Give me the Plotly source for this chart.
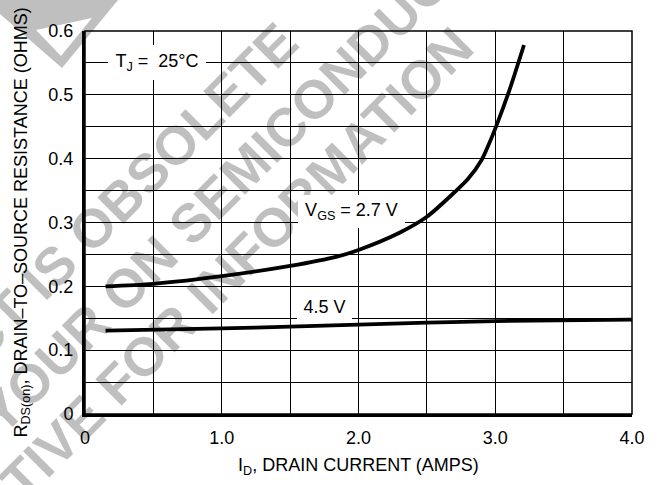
import plotly.graph_objects as go

# ---- data ----
id_27 = [0.15, 0.5, 1.0, 1.5, 1.85, 2.0, 2.3, 2.5, 2.7, 2.8, 2.9, 2.95, 3.0, 3.1, 3.21]
rds_27 = [0.200, 0.204, 0.216, 0.232, 0.247, 0.257, 0.284, 0.309, 0.347, 0.368, 0.398, 0.421, 0.447, 0.505, 0.578]

id_45 = [0.15, 1.0, 1.5, 2.0, 2.5, 3.0, 4.0]
rds_45 = [0.1305, 0.134, 0.137, 0.140, 0.143, 0.1455, 0.148]

x_tickvals = [0, 1.0, 2.0, 3.0, 4.0]
x_ticktext = ["0", "1.0", "2.0", "3.0", "4.0"]
y_tickvals = [0, 0.1, 0.2, 0.3, 0.4, 0.5, 0.6]
y_ticktext = ["0", "0.1", "0.2", "0.3", "0.4", "0.5", "0.6"]
x_grid_step = 0.5
y_grid_step = 0.05

x_title = "I<sub>D</sub>, DRAIN CURRENT (AMPS)"
y_title = "R<sub>DS(on)</sub>, DRAIN\u2013TO\u2013SOURCE RESISTANCE (OHMS)"
label_tj = "T<sub>J</sub> =  25\u00b0C"
label_27 = "V<sub>GS</sub> = 2.7 V"
label_45 = "4.5 V"
watermark = ["PRODUCT IS OBSOLETE",
             "CONTACT YOUR ON SEMICONDUCTOR",
             "REPRESENTATIVE FOR INFORMATION"]

# ---- layout geometry ----
W, H = 657, 485
L, R, T, B = 85, 25, 31, 71
PW, PH = W - L - R, H - T - B

def px(x):
    return (x - L) / PW

def py(y):
    return (H - B - y) / PH

FONT = "Liberation Sans, Arial, Helvetica, sans-serif"

fig = go.Figure()
fig.add_trace(go.Scatter(x=id_27, y=rds_27, mode="lines",
                         line=dict(color="black", width=3.8, shape="spline", smoothing=0.8),
                         hoverinfo="skip", showlegend=False))
fig.add_trace(go.Scatter(x=id_45, y=rds_45, mode="lines",
                         line=dict(color="black", width=3.8, shape="spline", smoothing=0.6),
                         hoverinfo="skip", showlegend=False))

annotations = []
# watermark (grey, multiplies over black lines)
wm_pos = [(59, 260.5), (157, 256), (109, 391)]
for txt, (cx, cy) in zip(watermark, wm_pos):
    annotations.append(dict(text=txt, xref="paper", yref="paper", x=px(cx), y=py(cy),
                            xanchor="center", yanchor="middle", textangle=-45, showarrow=False,
                            font=dict(family=FONT, size=54, color="rgba(0,0,0,0.25)", weight="bold")))

# curve labels with white boxes (x, y, box width, box height)
for txt, x, y, w, h in [(label_tj, 0.526, 0.55, 90, 27),
                        (label_27, 1.949, 0.3172, 99, 25),
                        (label_45, 1.75, 0.168, 47, 22)]:
    annotations.append(dict(text=txt, xref="x", yref="y", x=x, y=y, showarrow=False,
                            xanchor="center", yanchor="middle", bgcolor="white", borderpad=4,
                            borderwidth=0, width=w, height=h, align="center", valign="middle",
                            font=dict(family=FONT, size=18, color="black")))

# axis titles
annotations.append(dict(text=x_title, xref="paper", yref="paper", x=0.5, y=py(467),
                        xanchor="center", yanchor="middle", showarrow=False,
                        font=dict(family=FONT, size=18, color="black")))
annotations.append(dict(text=y_title, xref="paper", yref="paper", x=px(22), y=py(222.5),
                        xanchor="center", yanchor="middle", textangle=-90, showarrow=False,
                        font=dict(family=FONT, size=18, color="black")))

shapes = [
    # partial watermark chevron at top-left
    dict(type="path", xref="paper", yref="paper", layer="below",
         path=f"M {px(0)},{py(0)} L {px(118)},{py(0)} L {px(62)},{py(68)} L {px(0)},{py(14)} Z",
         fillcolor="#bfbfbf", line=dict(width=0)),
    dict(type="path", xref="paper", yref="paper", layer="below",
         path=f"M {px(36)},{py(30)} L {px(92)},{py(18)} L {px(61)},{py(56)} Z",
         fillcolor="white", line=dict(width=0)),
    # thin frame on top/right
    dict(type="rect", xref="paper", yref="paper", x0=0, x1=1, y0=0, y1=1,
         line=dict(color="black", width=1.5), layer="above"),
]

fig.update_layout(
    width=W, height=H, margin=dict(l=L, r=R, t=T, b=B),
    paper_bgcolor="white", plot_bgcolor="rgba(0,0,0,0)",
    annotations=annotations, shapes=shapes, showlegend=False,
    xaxis=dict(range=[0, 4], tickvals=x_tickvals, ticktext=x_ticktext,
               showgrid=True, gridcolor="black", gridwidth=1.3,
               minor=dict(dtick=x_grid_step, tick0=0, showgrid=True, gridcolor="black", gridwidth=1.3),
               showline=True, linecolor="black", linewidth=3, zeroline=False,
               ticks="", ticklabelstandoff=5,
               tickfont=dict(family=FONT, size=18, color="black")),
    yaxis=dict(range=[0, 0.6], tickvals=y_tickvals, ticktext=y_ticktext,
               showgrid=True, gridcolor="black", gridwidth=1.3,
               minor=dict(dtick=y_grid_step, tick0=0, showgrid=True, gridcolor="black", gridwidth=1.3),
               showline=True, linecolor="black", linewidth=3, zeroline=False,
               ticks="", ticklabelstandoff=5,
               tickfont=dict(family=FONT, size=18, color="black")),
)

fig.write_html("out.html")
